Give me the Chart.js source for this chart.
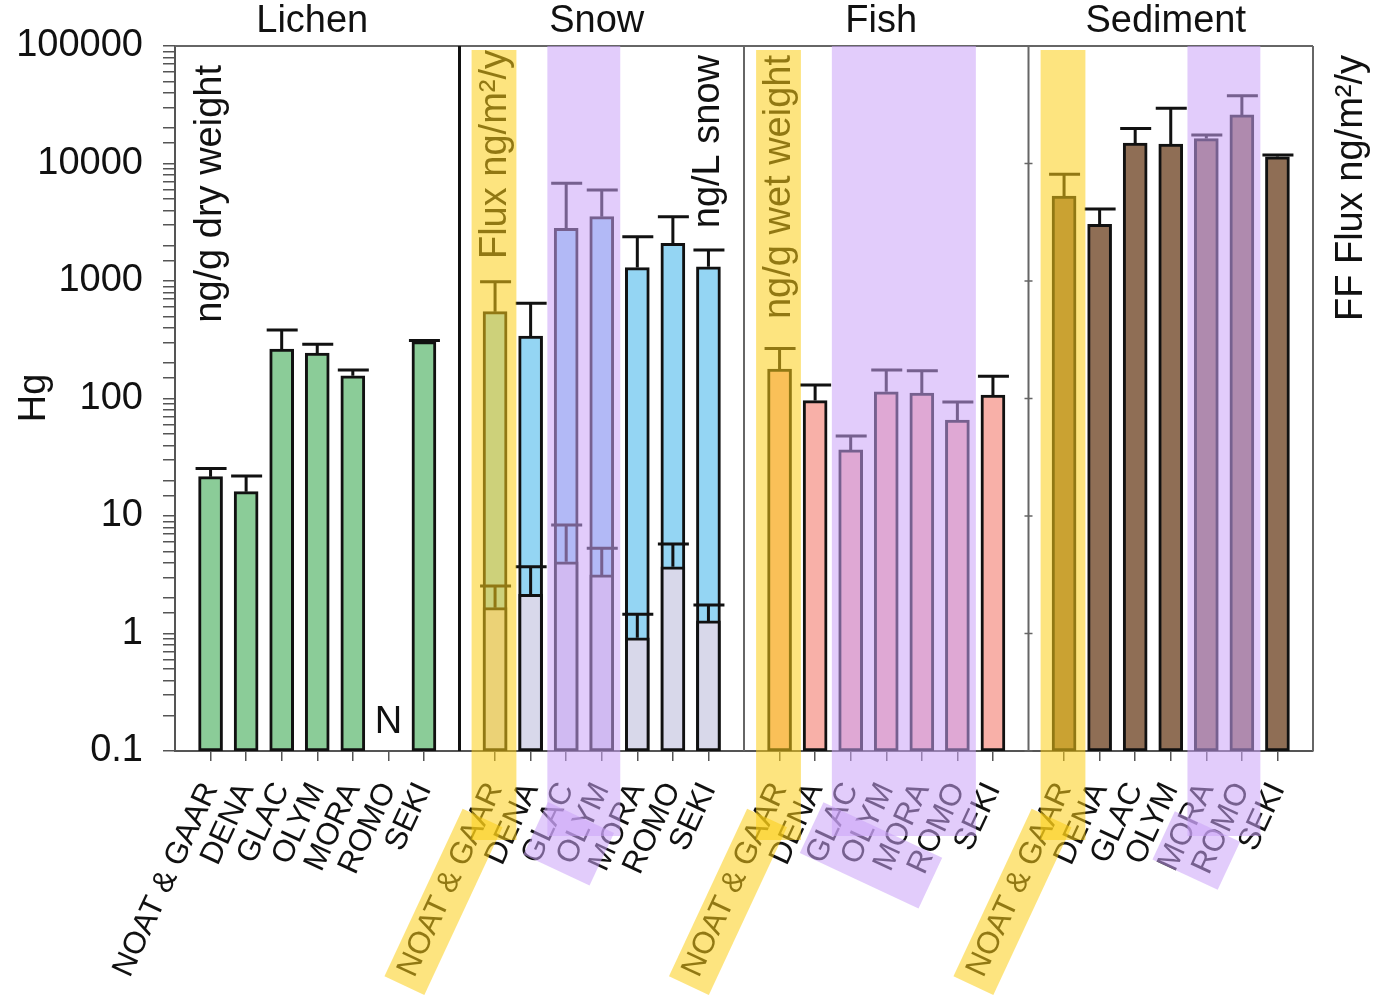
<!DOCTYPE html>
<html>
<head>
<meta charset="utf-8">
<script src="https://cdn.jsdelivr.net/npm/chart.js@4"></script>
<style>
  html, body { margin: 0; padding: 0; background: #fff; }
  #wrap { width: 1378px; height: 999px; }
</style>
</head>
<body>
<div id="wrap"><canvas id="chart" width="1378" height="999"></canvas></div>
<script>
const panels = ['Lichen', 'Snow', 'Fish', 'Sediment'];
const sites = ['NOAT & GAAR', 'DENA', 'GLAC', 'OLYM', 'MORA', 'ROMO', 'SEKI'];
const yTickValues = [0.1, 1, 10, 100, 1000, 10000, 100000];

// Hg, bar value and top of error bar, per site
const lichenHg = [21.6, 16.1, 264, 243, 156, null, 305];
const lichenErr = [25.4, 21.9, 383, 289, 175, null, 312];
const snowFlux = [548, 340, 2810, 3530, 1300, 2090, 1320];
const snowFluxErr = [987, 646, 6780, 5950, 2380, 3530, 1840];
const snowConc = [1.66, 2.15, 4.08, 3.15, 0.92, 3.7, 1.28];
const snowConcErr = [2.54, 3.7, 8.38, 5.31, 1.46, 5.78, 1.75];
const fishHg = [178, 96, 36.5, 114, 111, 65.6, 107];
const fishErr = [267, 130, 48, 175, 172, 93.4, 155];
const sedimentFlux = [5290, 3040, 14900, 14600, 16300, 25900, 11400];
const sedimentErr = [8090, 4100, 19900, 29500, 17500, 37800, 11800];

const FONT = '"Liberation Sans", Arial, sans-serif';
const yellowHi = 'rgba(251,206,22,0.55)';
const purpleHi = 'rgba(202,162,248,0.55)';
const LABEL_ANGLE = 65 * Math.PI / 180;

Chart.defaults.font.family = FONT;

// every panel takes 8 units of the shared x axis, sites sit at 1..7
const pos = (p, i) => p * 8 + 1 + i;
const tickPos = [];
const tickText = [];
panels.forEach((_, p) => sites.forEach((s, i) => { tickPos.push(pos(p, i)); tickText.push(s); }));

const series = (p, vals) => vals.map((v, i) => ({ x: pos(p, i), y: v }));

// highlighter marks: vertical bands and patches along the rotated labels
const bands = [
  { p: 1, from: 0, to: 0, color: yellowHi },
  { p: 1, from: 2, to: 3, color: purpleHi },
  { p: 2, from: 0, to: 0, color: yellowHi },
  { p: 2, from: 2, to: 5, color: purpleHi },
  { p: 3, from: 0, to: 0, color: yellowHi },
  { p: 3, from: 4, to: 5, color: purpleHi }
];
const labelPatches = [
  { p: 1, i: 0, u: [-251, -66], v: [-5, 39], color: yellowHi },
  { p: 2, i: 0, u: [-251, -66], v: [-5, 39], color: yellowHi },
  { p: 3, i: 0, u: [-251, -66], v: [-5, 39], color: yellowHi },
  { p: 1, i: 2, u: [-112, -54], v: [5, 78], color: purpleHi },
  { p: 2, i: 2, u: [-114, -58], v: [-3, 128], color: purpleHi },
  { p: 3, i: 4, u: [-121, -68], v: [-3, 69], color: purpleHi }
];

function vText(ctx, text, x, y, align) {
  ctx.save();
  ctx.translate(x, y);
  ctx.rotate(-Math.PI / 2);
  ctx.textAlign = align;
  ctx.textBaseline = 'middle';
  ctx.fillText(text, 0, 0);
  ctx.restore();
}

const decorPlugin = {
  id: 'decor',
  afterDatasetsDraw(chart) {
    const ctx = chart.ctx;
    const xs = chart.scales.x;
    const ys = chart.scales.y;
    const area = chart.chartArea;

    // error bars
    chart.data.datasets.forEach((ds, di) => {
      const meta = chart.getDatasetMeta(di);
      meta.data.forEach((el, j) => {
        const e = ds.errTop[j];
        if (e == null || ds.data[j].y == null) return;
        const ye = ys.getPixelForValue(e);
        ctx.save();
        ctx.strokeStyle = '#111';
        ctx.lineWidth = 3;
        ctx.beginPath();
        ctx.moveTo(el.x, el.y);
        ctx.lineTo(el.x, ye);
        ctx.moveTo(el.x - 15, ye);
        ctx.lineTo(el.x + 16, ye);
        ctx.stroke();
        ctx.restore();
      });
    });

    // panel frames
    ctx.save();
    ctx.strokeStyle = '#666';
    ctx.lineWidth = 2;
    ctx.beginPath();
    ctx.moveTo(area.left, area.top);
    ctx.lineTo(area.right, area.top);
    [16, 24, 32].forEach(v => {
      const x = xs.getPixelForValue(v);
      ctx.moveTo(x, area.top);
      ctx.lineTo(x, area.bottom);
    });
    ctx.stroke();
    const xd = xs.getPixelForValue(24);
    ctx.lineWidth = 1.5;
    ctx.beginPath();
    yTickValues.forEach(v => {
      const y = ys.getPixelForValue(v);
      ctx.moveTo(xd - 4, y);
      ctx.lineTo(xd + 4, y);
    });
    ctx.stroke();
    ctx.strokeStyle = '#111';
    ctx.lineWidth = 3;
    ctx.beginPath();
    ctx.moveTo(xs.getPixelForValue(8), area.top);
    ctx.lineTo(xs.getPixelForValue(8), area.bottom);
    ctx.stroke();

    // unit labels inside the panels
    ctx.fillStyle = '#111';
    ctx.font = '38px ' + FONT;
    vText(ctx, 'ng/g dry weight', xs.getPixelForValue(pos(0, 0)), area.top + 19, 'right');
    vText(ctx, 'Flux ng/m\u00B2/y', xs.getPixelForValue(pos(1, 0)), area.top + 4, 'right');
    vText(ctx, 'ng/L snow', xs.getPixelForValue(pos(1, 6)), area.top + 9, 'right');
    vText(ctx, 'ng/g wet weight', xs.getPixelForValue(pos(2, 0)), area.top + 9, 'right');
    ctx.textAlign = 'center';
    ctx.textBaseline = 'middle';
    ctx.fillText('N', xs.getPixelForValue(pos(0, 5)), area.bottom - 28);
    ctx.restore();

    // highlighter
    ctx.save();
    bands.forEach(b => {
      const yellow = b.color === yellowHi;
      const x0 = xs.getPixelForValue(pos(b.p, b.from) + (yellow ? -0.66 : -0.53));
      const x1 = xs.getPixelForValue(pos(b.p, b.to) + (yellow ? 0.6 : 0.52));
      const top = yellow ? area.top + 4 : area.top;
      ctx.fillStyle = b.color;
      ctx.fillRect(x0, top, x1 - x0, (yellow ? 840 : 836) - top);
    });
    labelPatches.forEach(l => {
      ctx.save();
      ctx.translate(xs.getPixelForValue(pos(l.p, l.i)), area.bottom);
      ctx.rotate(-LABEL_ANGLE);
      ctx.fillStyle = l.color;
      ctx.fillRect(l.u[0], l.v[0], l.u[1] - l.u[0], l.v[1] - l.v[0]);
      ctx.restore();
    });
    ctx.restore();
  },
  afterDraw(chart) {
    const ctx = chart.ctx;
    const xs = chart.scales.x;
    const area = chart.chartArea;
    ctx.save();
    ctx.fillStyle = '#111';
    ctx.font = '38px ' + FONT;
    ctx.textAlign = 'center';
    ctx.textBaseline = 'middle';
    panels.forEach((name, p) => {
      ctx.fillText(name, xs.getPixelForValue(p * 8 + 4) - 5, 22);
    });
    vText(ctx, 'Hg', 35, 398, 'center');
    vText(ctx, 'FF Flux ng/m\u00B2/y', area.right + 39, area.top + 9, 'right');
    ctx.restore();
  }
};

new Chart(document.getElementById('chart'), {
  type: 'bar',
  data: {
    datasets: [
      { label: 'Lichen', data: series(0, lichenHg), errTop: lichenErr, backgroundColor: '#8bcc98', order: 1 },
      { label: 'Snow ng/L', data: series(1, snowConc), errTop: snowConcErr, backgroundColor: '#d8d8ea', order: 0 },
      { label: 'Snow flux', data: series(1, snowFlux), errTop: snowFluxErr, backgroundColor: '#94d5f3', order: 1 },
      { label: 'Fish', data: series(2, fishHg), errTop: fishErr, backgroundColor: '#f8b0a8', order: 1 },
      { label: 'Sediment', data: series(3, sedimentFlux), errTop: sedimentErr, backgroundColor: '#8f6e55', order: 1 }
    ]
  },
  options: {
    responsive: false,
    animation: false,
    devicePixelRatio: 1,
    layout: { padding: { top: 46, right: 65, left: 0, bottom: 0 } },
    plugins: { legend: { display: false }, tooltip: { enabled: false } },
    datasets: {
      bar: { grouped: false, barThickness: 24, borderWidth: 3, borderColor: '#111', borderSkipped: false }
    },
    scales: {
      x: {
        type: 'linear',
        offset: false,
        min: 0,
        max: 32,
        afterBuildTicks: s => { s.ticks = tickPos.map(v => ({ value: v })); },
        afterFit: s => { s.height = 248; },
        ticks: {
          autoSkip: false,
          minRotation: 65,
          maxRotation: 65,
          padding: 16,
          color: '#111',
          font: { size: 31 },
          callback: (v, i) => tickText[i]
        },
        grid: { offset: false, drawOnChartArea: false, drawTicks: true, tickLength: 10, color: '#555', lineWidth: 1.5 },
        border: { color: '#555', width: 2 }
      },
      y: {
        type: 'logarithmic',
        min: 0.1,
        max: 100000,
        afterFit: s => { s.width = 175; },
        ticks: {
          autoSkip: false,
          padding: 20,
          color: '#111',
          font: { size: 38 },
          callback: v => {
            const l = Math.log10(v);
            if (Math.abs(l - Math.round(l)) > 1e-6) return '';
            return v < 1 ? '0.1' : String(Math.round(v));
          }
        },
        grid: { drawOnChartArea: false, tickLength: 12, color: '#555', lineWidth: 1.5 },
        border: { color: '#555', width: 2 }
      }
    }
  },
  plugins: [decorPlugin]
});
</script>
</body>
</html>
